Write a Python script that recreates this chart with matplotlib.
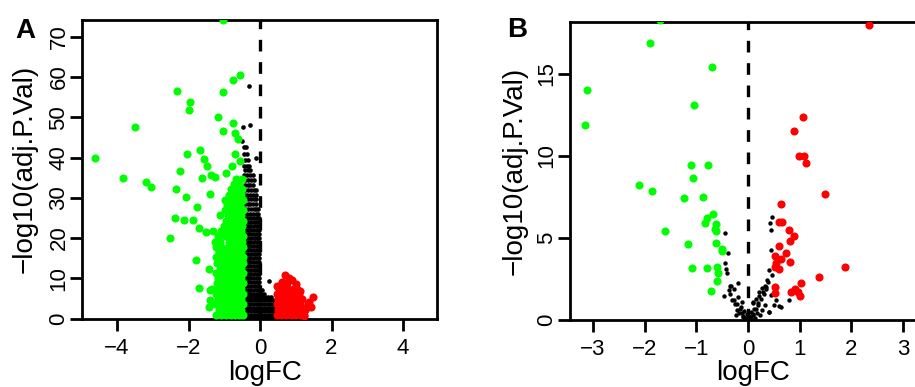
import matplotlib
matplotlib.use("Agg")
import matplotlib.pyplot as plt

plt.rcParams['font.family'] = ['Liberation Sans', 'DejaVu Sans']

# ---------------- Panel A data ----------------
GREEN_A = [(-4.61, 39.9), (-3.84, 34.9), (-3.51, 47.5), (-3.20, 33.8), (-3.05, 32.6),
           (-2.52, 19.9), (-2.37, 25.0), (-2.32, 56.6), (-2.34, 32.3), (-2.23, 36.7),
           (-2.12, 24.6), (-2.07, 30.2), (-2.03, 40.9), (-1.96, 53.9), (-1.98, 51.7),
           (-1.88, 24.6), (-1.80, 14.6), (-1.77, 27.6), (-1.72, 7.7), (-1.71, 22.5),
           (-1.68, 41.9), (-1.62, 34.8), (-1.56, 39.7), (-1.52, 21.5), (-1.47, 38.0),
           (-1.44, 12.2), (-1.44, 2.9), (-1.40, 30.9), (-1.36, 35.6), (-1.33, 7.4),
           (-1.25, 35.2), (-1.17, 50.0), (-1.12, 25.6), (-1.03, 56.3), (-1.04, 46.6),
           (-1.03, 74.3), (-0.96, 36.2), (-0.77, 59.3), (-0.56, 60.5), (-0.76, 48.6),
           (-0.70, 46.1), (-0.61, 44.7), (-0.70, 40.9), (-0.56, 39.2), (-0.79, 38.0),
           (-1.40, 4.7), (-1.40, 7.0), (-1.31, 21.7)]

GREEN_A_ROWS = [
    (0.9, [-1.22, -1.08, -0.95, -0.82, -0.70, -0.58, -0.47]),
    (2.2, [-1.15, -1.01, -0.88, -0.76, -0.64, -0.52]),
    (3.5, [-1.25, -1.10, -0.96, -0.83, -0.70, -0.58, -0.47]),
    (4.8, [-1.18, -1.04, -0.90, -0.77, -0.64, -0.52]),
    (6.1, [-1.22, -1.08, -0.95, -0.82, -0.70, -0.58, -0.47]),
    (7.4, [-1.15, -1.01, -0.88, -0.76, -0.64, -0.52]),
    (8.7, [-1.20, -1.06, -0.93, -0.80, -0.68, -0.56, -0.47]),
    (10.0, [-1.17, -1.02, -0.89, -0.77, -0.64, -0.52]),
    (11.3, [-1.23, -1.08, -0.95, -0.82, -0.70, -0.58, -0.47]),
    (12.6, [-1.13, -1.00, -0.87, -0.75, -0.63, -0.52]),
    (13.9, [-1.20, -1.06, -0.93, -0.80, -0.68, -0.56, -0.47]),
    (15.2, [-1.24, -1.10, -0.96, -0.84, -0.72, -0.60, -0.49]),
    (16.5, [-1.15, -1.02, -0.89, -0.77, -0.65, -0.53]),
    (17.8, [-1.22, -1.08, -0.90, -0.78, -0.66, -0.55, -0.47]),
    (19.1, [-1.26, -1.13, -0.86, -0.73, -0.61, -0.50]),
    (20.4, [-1.18, -0.98, -0.82, -0.70, -0.58, -0.47]),
    (21.7, [-1.10, -0.93, -0.79, -0.66, -0.54]),
    (23.0, [-1.02, -0.88, -0.75, -0.62, -0.50]),
    (24.3, [-0.95, -0.82, -0.69, -0.57, -0.47]),
    (25.6, [-0.90, -0.76, -0.64, -0.52]),
    (26.9, [-0.98, -0.85, -0.72, -0.60, -0.49]),
    (28.2, [-0.92, -0.79, -0.67, -0.55]),
    (29.5, [-0.97, -0.84, -0.72, -0.60, -0.48]),
    (30.8, [-0.88, -0.76, -0.64, -0.52]),
    (32.1, [-0.82, -0.66, -0.50]),
    (33.4, [-0.74, -0.58]),
    (34.7, [-0.66, -0.50]),
]

BLACK_A = [(-0.32, 57.8), (-0.28, 48.1), (-0.47, 47.7), (-0.11, 40.0), (0.25, 9.4), (1.18, 0.3)]

BLACK_A_ROWS = [
    (44.0, [-0.50]),
    (42.5, [-0.46, -0.40]),
    (41.0, [-0.44, -0.36]),
    (39.5, [-0.43, -0.35]),
    (38.0, [-0.45, -0.37, -0.30]),
    (36.8, [-0.42, -0.34, -0.27]),
    (35.6, [-0.44, -0.36, -0.28, -0.20]),
    (34.4, [-0.41, -0.33, -0.25, -0.17]),
    (33.2, [-0.43, -0.35, -0.27, -0.19]),
    (32.0, [-0.42, -0.34, -0.26, -0.18, -0.12]),
    (30.8, [-0.44, -0.36, -0.28, -0.20, -0.12]),
    (29.6, [-0.41, -0.33, -0.25, -0.17, -0.10]),
    (28.4, [-0.43, -0.35, -0.27, -0.19, -0.11]),
    (27.2, [-0.42, -0.34, -0.26, -0.18, -0.10, -0.05]),
    (26.0, [-0.44, -0.36, -0.28, -0.20, -0.12, -0.05]),
    (25.0, [-0.41, -0.33, -0.25, -0.17, -0.09, -0.03]),
    (24.0, [-0.42, -0.34, -0.26, -0.18, -0.10, -0.04]),
    (23.0, [-0.40, -0.32, -0.24, -0.16, -0.08, -0.02]),
    (22.0, [-0.43, -0.35, -0.27, -0.19, -0.11, -0.03]),
    (21.0, [-0.41, -0.33, -0.25, -0.17, -0.09, -0.02]),
    (20.0, [-0.42, -0.34, -0.26, -0.18, -0.10, -0.03]),
    (19.0, [-0.40, -0.32, -0.24, -0.16, -0.08, -0.02]),
    (18.0, [-0.43, -0.35, -0.27, -0.19, -0.11, -0.03]),
    (17.0, [-0.41, -0.33, -0.25, -0.17, -0.09, -0.02]),
    (16.0, [-0.42, -0.34, -0.26, -0.18, -0.10, -0.03]),
    (15.0, [-0.40, -0.32, -0.24, -0.16, -0.08, -0.02]),
    (14.0, [-0.43, -0.35, -0.27, -0.19, -0.11, -0.03]),
    (13.0, [-0.41, -0.33, -0.25, -0.17, -0.09, -0.02]),
    (12.0, [-0.42, -0.34, -0.26, -0.18, -0.10, -0.03]),
    (11.0, [-0.40, -0.32, -0.24, -0.16, -0.08, -0.02]),
    (10.0, [-0.43, -0.35, -0.27, -0.19, -0.11, -0.03]),
    (9.0, [-0.41, -0.33, -0.25, -0.17, -0.09, -0.02]),
    (8.0, [-0.42, -0.34, -0.26, -0.18, -0.10, -0.03]),
    (7.0, [-0.40, -0.32, -0.24, -0.16, -0.08, -0.02, 0.05]),
    (6.2, [-0.43, -0.35, -0.27, -0.19, -0.11, -0.03, 0.04, 0.12]),
    (5.4, [-0.41, -0.33, -0.25, -0.17, -0.09, -0.02, 0.05, 0.13, 0.21, 0.30]),
    (4.5, [-0.42, -0.34, -0.26, -0.18, -0.10, -0.03, 0.04, 0.12, 0.20, 0.28, 0.36]),
    (3.6, [-0.40, -0.32, -0.24, -0.16, -0.08, -0.02, 0.05, 0.13, 0.21, 0.29, 0.36]),
    (2.7, [-0.43, -0.35, -0.27, -0.19, -0.11, -0.03, 0.04, 0.12, 0.20, 0.28, 0.36]),
    (1.8, [-0.41, -0.33, -0.25, -0.17, -0.09, -0.02, 0.05, 0.13, 0.21, 0.29, 0.37]),
    (0.9, [-0.42, -0.34, -0.26, -0.18, -0.10, -0.03, 0.04, 0.12, 0.20, 0.28, 0.36]),
    (0.2, [-0.40, -0.32, -0.24, -0.16, -0.08, -0.02, 0.05, 0.13, 0.21, 0.29, 0.37]),
]

RED_A = [(0.70, 10.8), (0.82, 10.1), (0.90, 9.6), (1.00, 8.5), (0.62, 9.0), (0.75, 8.8),
         (0.47, 8.0), (1.12, 6.9), (1.49, 5.4), (1.38, 4.0), (1.42, 2.9), (1.28, 2.5),
         (1.22, 0.7)]

RED_A_ROWS = [
    (0.9, [0.47, 0.60, 0.73, 0.86, 0.99, 1.12, 1.24]),
    (2.2, [0.50, 0.63, 0.76, 0.89, 1.02, 1.15, 1.27]),
    (3.5, [0.47, 0.60, 0.73, 0.86, 0.99, 1.12, 1.35]),
    (4.8, [0.50, 0.63, 0.76, 0.89, 1.02, 1.16]),
    (6.1, [0.47, 0.60, 0.73, 0.86, 0.99, 1.08]),
    (7.3, [0.52, 0.65, 0.78, 0.91, 1.03]),
]

# ---------------- Panel B data ----------------
GREEN_B = [(-1.70, 18.3), (-1.90, 16.9), (-0.70, 15.45), (-3.12, 14.0), (-3.15, 11.9),
           (-1.04, 13.1), (-1.11, 9.47), (-0.78, 9.47), (-1.07, 8.64), (-2.10, 8.21),
           (-1.85, 7.89), (-1.23, 7.44), (-0.87, 7.52), (-0.68, 6.44), (-0.80, 6.2),
           (-0.84, 5.9), (-0.62, 5.85), (-0.64, 5.53), (-0.62, 5.4), (-1.60, 5.45),
           (-1.15, 4.65), (-0.61, 4.67), (-0.51, 4.35), (-0.50, 4.2), (-1.09, 3.19),
           (-0.80, 3.19), (-0.59, 3.25), (-0.58, 2.85), (-0.59, 2.38), (-0.72, 1.79)]

RED_B = [(2.34, 18.0), (1.07, 12.4), (0.88, 11.5), (0.98, 10.0), (1.09, 10.0),
         (1.13, 9.55), (1.48, 7.68), (0.64, 7.05), (0.60, 5.96), (0.66, 5.96),
         (0.79, 5.49), (0.88, 5.14), (0.81, 4.80), (0.59, 4.51), (0.73, 4.11),
         (0.53, 3.90), (0.63, 3.74), (0.55, 3.45), (0.81, 3.56), (0.60, 3.13),
         (0.53, 3.25), (1.87, 3.23), (1.38, 2.62), (1.03, 2.28), (0.53, 1.99),
         (0.91, 1.91), (0.84, 1.69), (1.00, 1.48), (0.53, 1.62), (0.96, 1.70)]

BLACK_B = [(-0.44, 5.28), (-0.38, 4.07), (-0.45, 3.45), (-0.42, 3.10), (-0.40, 2.85),
           (-0.47, 1.46), (-0.36, 1.85), (-0.33, 2.07), (-0.19, 2.24), (-0.34, 2.10),
           (0.42, 5.93), (0.47, 6.30), (0.44, 5.49), (0.45, 4.27), (0.41, 3.05),
           (0.47, 2.74), (0.37, 2.44), (0.34, 2.03), (0.29, 1.73), (0.27, 1.93),
           (0.55, 1.22), (0.63, 0.81), (0.79, 1.22), (0.60, 0.85), (0.41, 0.51),
           (0.09, 1.07), (-0.30, 1.20), (-0.25, 0.95), (-0.22, 0.60), (-0.18, 0.40),
           (-0.14, 0.80), (-0.10, 0.20), (-0.08, 0.55), (-0.05, 0.10), (-0.02, 0.35),
           (0.00, 0.05), (0.02, 0.25), (0.05, 0.50), (0.06, 0.10), (0.09, 0.30),
           (0.12, 0.70), (0.14, 0.15), (0.17, 0.45), (0.20, 0.90), (0.23, 0.30),
           (0.25, 1.30), (0.28, 0.60), (0.30, 1.60), (-0.35, 1.60), (-0.28, 1.90),
           (-0.12, 1.10), (0.10, 1.05), (0.35, 1.90), (0.38, 2.30), (0.22, 1.70),
           (0.15, 1.30), (-0.20, 1.40), (-0.24, 0.30), (0.33, 0.90), (0.40, 0.50),
           (-0.16, 0.65), (-0.12, 0.45), (-0.09, 0.25), (-0.03, 0.15), (0.03, 0.20),
           (0.10, 0.35), (0.16, 0.65), (0.19, 1.05), (0.22, 1.45), (0.32, 2.05),
           (-0.21, 0.95), (-0.27, 1.25), (0.50, 0.90), (0.45, 1.50)]


def flatten(rows):
    xs, ys = [], []
    for y, row in rows:
        for x in row:
            xs.append(x)
            ys.append(y)
    return xs, ys


def split(pts):
    return [p[0] for p in pts], [p[1] for p in pts]


GREEN = '#00ff00'
RED = '#ff0000'

fig = plt.figure(figsize=(9.15, 3.87), dpi=100)
W, H = 915.0, 387.0
axA = fig.add_axes([82 / W, 1 - 318.5 / H, 355 / W, 299 / H])
axB = fig.add_axes([570 / W, 1 - 320 / H, 356 / W, 298.3 / H])


def style(ax, xlim, ylim, xticks, yticks, ylab_x, xlab_y):
    ax.set_xlim(*xlim)
    ax.set_ylim(*ylim)
    ax.set_xticks(xticks)
    ax.set_yticks(yticks)
    for s in ax.spines.values():
        s.set_linewidth(2.0)
    ax.tick_params(length=8.5, width=2.0, labelsize=16)
    ax.tick_params(axis='x', pad=5.5)
    ax.tick_params(axis='y', pad=0.5)
    for lab in ax.get_yticklabels():
        lab.set_rotation(90)
        lab.set_va('center')
    ax.axvline(0, color='black', lw=2.4, linestyle=(0, (3.5, 3.2)), zorder=1)
    ax.set_xlabel('logFC', fontsize=20)
    ax.set_ylabel('\u2212log10(adj.P.Val)', fontsize=20)
    ax.yaxis.set_label_coords(ylab_x, 0.5)
    ax.xaxis.set_label_coords(0.515, xlab_y)


# Panel A
bx, by = split(BLACK_A)
bx2, by2 = flatten(BLACK_A_ROWS)
axA.scatter(bx + bx2, by + by2, s=11, color='black', linewidths=0, zorder=2)
gx, gy = split(GREEN_A)
gx2, gy2 = flatten(GREEN_A_ROWS)
axA.scatter(gx2 + gx, gy2 + gy, s=34, color=GREEN, linewidths=0, zorder=3)
rx, ry = split(RED_A)
rx2, ry2 = flatten(RED_A_ROWS)
axA.scatter(rx2 + rx, ry2 + ry, s=34, color=RED, linewidths=0, zorder=3)
style(axA, (-4.98, 4.95), (0, 74.3), [-4, -2, 0, 2, 4], [0, 10, 20, 30, 40, 50, 60, 70],
      (38 - 82) / 355, (318.5 - 360) / 299)

# Panel B
bx, by = split(BLACK_B)
axB.scatter(bx, by, s=10, color='black', linewidths=0, zorder=2)
gx, gy = split(GREEN_B)
axB.scatter(gx, gy, s=34, color=GREEN, linewidths=0, zorder=3)
rx, ry = split(RED_B)
axB.scatter(rx, ry, s=34, color=RED, linewidths=0, zorder=3)
style(axB, (-3.44, 3.44), (0, 18.19), [-3, -2, -1, 0, 1, 2, 3], [0, 5, 10, 15],
      (528 - 570) / 356, (320 - 360) / 298.3)

fig.text(15 / W, 1 - 38 / H, 'A', fontsize=20, fontweight='bold', ha='left', va='baseline')
fig.text(507 / W, 1 - 37 / H, 'B', fontsize=20, fontweight='bold', ha='left', va='baseline')

fig.savefig('out.png', dpi=100)
